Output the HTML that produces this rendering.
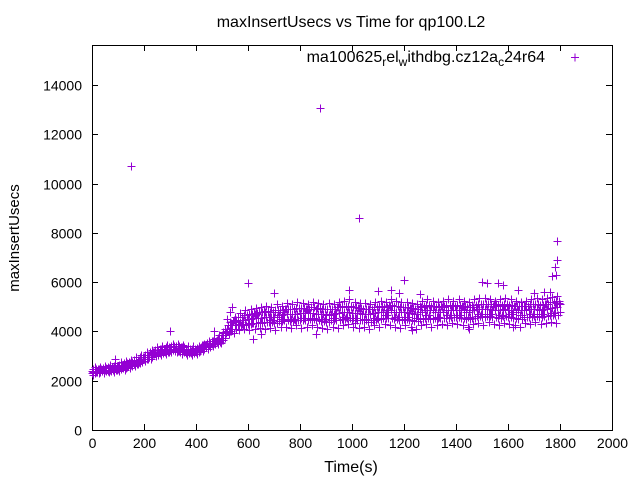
<!DOCTYPE html>
<html><head><meta charset="utf-8"><style>
body{margin:0;background:#fff}
svg{display:block;font-family:"Liberation Sans",sans-serif}
</style></head><body>
<svg id="chart" width="640" height="480">
<rect x="0" y="0" width="640" height="480" fill="#fff"/>
<text x="351" y="27" text-anchor="middle" font-size="16">maxInsertUsecs vs Time for qp100.L2</text>
<text x="351" y="472" text-anchor="middle" font-size="16">Time(s)</text>
<text transform="translate(19,238) rotate(-90)" text-anchor="middle" font-size="15">maxInsertUsecs</text>
<g id="axes"></g>
<g id="marks"></g>
<g>
<text x="545" y="62" text-anchor="end" font-size="16">ma100625<tspan dy="4" font-size="12">r</tspan><tspan dy="-4">el</tspan><tspan dy="4" font-size="12">w</tspan><tspan dy="-4">ithdbg.cz12a</tspan><tspan dy="4" font-size="12">c</tspan><tspan dy="-4">24r64</tspan></text>
<path d="M571 57.5h8M575 53.5v8" stroke="#9400d3" stroke-width="1"/>
</g>
</svg>
<script>
const xTicks=[0,200,400,600,800,1000,1200,1400,1600,1800,2000];
const yTicks=[0,2000,4000,6000,8000,10000,12000,14000];
const midVals=[2400,2400,2450,2450,2500,2550,2600,2650,2750,2850,2950,3050,3150,3200,3250,3300,3300,3250,3200,3200,3250,3350,3450,3550,3650,3850,4100,4250,4400,4450,4500,4550,4550,4600,4600,4600,4650,4700,4700,4700,4750,4750,4750,4700,4700,4650,4700,4750,4800,4800,4750,4750,4700,4700,4750,4800,4800,4850,4800,4800,4800,4750,4700,4800,4850,4850,4800,4800,4850,4850,4850,4850,4800,4850,4900,4900,4900,4850,4850,4900,4850,4800,4850,4850,4900,4900,4850,4900,4950,5000,5100];
const loVals=[2250,2300,2300,2350,2350,2400,2450,2500,2600,2700,2800,2900,3000,3050,3100,3150,3150,3100,3050,3050,3100,3200,3300,3400,3500,3650,3900,3950,4050,4100,4050,4100,4150,4100,4150,4050,4200,4200,4150,4250,4150,4200,4250,4200,4150,4100,4200,4150,4250,4300,4200,4150,4200,4100,4250,4200,4300,4250,4200,4150,4250,4200,4100,4250,4300,4200,4250,4300,4250,4350,4300,4250,4200,4300,4350,4250,4400,4300,4250,4350,4300,4250,4200,4350,4300,4400,4300,4350,4400,4350,4500];
const hiVals=[2550,2550,2600,2650,2700,2750,2800,2850,2950,3050,3150,3250,3350,3400,3450,3500,3500,3450,3400,3400,3400,3500,3600,3700,3850,4100,4400,4600,4750,4850,4900,4950,5000,5050,5000,5100,5050,5150,5100,5200,5150,5100,5200,5150,5100,5150,5100,5200,5250,5300,5200,5150,5150,5100,5200,5250,5200,5300,5250,5200,5200,5150,5100,5250,5300,5250,5200,5250,5300,5250,5300,5250,5200,5300,5350,5350,5300,5250,5300,5350,5300,5250,5200,5250,5300,5350,5300,5350,5400,5450,5500];
const altVals=[2350,2480,2400,2520,2420,2600,2550,2700,2680,2900,2880,3100,3050,3300,3150,3400,3200,3350,3150,3300,3200,3450,3400,3600,3550,3950,4000,4450,4300,4650,4350,4700,4400,4800,4450,4800,4500,4900,4500,4950,4550,4900,4550,4950,4500,4900,4550,5000,4600,5000,4550,4950,4500,4900,4550,5000,4650,5050,4600,5000,4600,4950,4550,5000,4650,5050,4600,5000,4650,5050,4650,5050,4600,5000,4700,5100,4700,5100,4650,5050,4700,5050,4650,5050,4700,5100,4700,5100,4750,5150,4800];
const lmVals=[2320,2360,2380,2400,2430,2480,2520,2580,2680,2760,2880,2980,3080,3120,3180,3230,3220,3180,3130,3120,3170,3280,3370,3480,3580,3750,4000,4100,4250,4280,4300,4330,4350,4380,4400,4350,4430,4450,4430,4480,4460,4470,4500,4450,4430,4400,4450,4480,4520,4550,4480,4450,4460,4400,4480,4500,4550,4530,4500,4480,4520,4480,4420,4520,4560,4520,4530,4550,4540,4600,4570,4540,4500,4560,4620,4580,4640,4580,4550,4620,4580,4530,4520,4600,4580,4640,4580,4620,4660,4680,4800];
const mhVals=[2470,2480,2520,2550,2600,2650,2700,2750,2850,2950,3050,3150,3250,3300,3350,3400,3400,3350,3300,3300,3330,3430,3530,3630,3750,3980,4250,4430,4580,4650,4700,4750,4780,4820,4800,4850,4850,4920,4900,4950,4950,4920,4980,4930,4900,4900,4900,4980,5020,5050,4980,4950,4930,4900,4980,5030,5000,5080,5020,5000,5000,4950,4900,5030,5080,5050,5000,5020,5080,5050,5080,5050,5000,5080,5120,5120,5100,5050,5080,5120,5080,5020,5030,5050,5100,5120,5080,5120,5180,5220,5300];
const outT=[150,875,1025,600,1200,1790,1790,1785,1780,1500,1520,1560,1580,700,990,1100,1150,1640,1740,1760,300,1450,1620,1230,1010,860,620,650,1180,1260,1700,530,1770,520,540,470,90,170];
const outV=[10700,13050,8600,5950,6100,7650,6900,6300,6600,6000,5950,5950,5900,5550,5700,5650,5700,5700,5600,5600,4000,4100,4200,4050,4350,3900,3700,3900,5550,5500,5550,4800,6250,4500,5000,4000,2900,2800];
const X0=92,X1=612,Y0=430,YT=45;
const xs=v=>X0+v*(X1-X0)/2000;
const ys=v=>Y0-v*345/14000;
const NS="http://www.w3.org/2000/svg";
const axes=document.getElementById('axes');
const box=document.createElementNS(NS,'rect');
box.setAttribute('x',X0+0.5);box.setAttribute('y',YT+0.5);box.setAttribute('width',X1-X0);box.setAttribute('height',Y0-YT);
box.setAttribute('fill','none');box.setAttribute('stroke','#000');


axes.appendChild(box);
xTicks.forEach(t=>{
 const x=Math.round(xs(t))+0.5;
 const p=document.createElementNS(NS,'path');
 p.setAttribute('d',`M${x} ${Y0}v-6M${x} ${YT}v6`);p.setAttribute('stroke','#000');
 
 
 axes.appendChild(p);
 const tx=document.createElementNS(NS,'text');
 tx.setAttribute('x',x);tx.setAttribute('y',Y0+18);tx.setAttribute('text-anchor','middle');tx.setAttribute('font-size','14');
 tx.textContent=t;
 
 
 axes.appendChild(tx);
});
yTicks.forEach(t=>{
 const y=Math.round(ys(t))+0.5;
 const p=document.createElementNS(NS,'path');
 p.setAttribute('d',`M${X0} ${y}h6M${X1} ${y}h-6`);p.setAttribute('stroke','#000');
 
 
 axes.appendChild(p);
 const tx=document.createElementNS(NS,'text');
 tx.setAttribute('x',82);tx.setAttribute('y',y+5);tx.setAttribute('text-anchor','end');tx.setAttribute('font-size','14');
 tx.textContent=t;
 
 
 axes.appendChild(tx);
});
const marks=document.getElementById('marks');
let d='';
function add(t,v){const x=Math.round(xs(t))+0.5,y=Math.round(ys(v))+0.5;d+=`M${x-4} ${y}h8M${x} ${y-4}v8`;}
[[midVals,0],[loVals,5],[hiVals,10],[altVals,15],[midVals,10],[altVals,5],[lmVals,12],[mhVals,3],[lmVals,0],[mhVals,15]].forEach(([arr,off])=>{
 arr.forEach((v,i)=>{const t=i*20+off;if(t<=1800)add(t,v);});
});
outT.forEach((t,i)=>add(t,outV[i]));
const path=document.createElementNS(NS,'path');
path.setAttribute('d',d);path.setAttribute('stroke','#9400d3');path.setAttribute('fill','none');


marks.appendChild(path);
</script>
</body></html>
